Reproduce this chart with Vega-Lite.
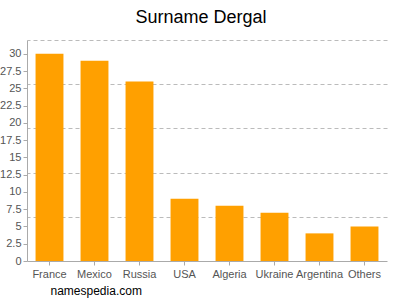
{
  "$schema": "https://vega.github.io/schema/vega-lite/v6.json",
  "width": 360,
  "height": 221,
  "autosize": {"type": "none"},
  "padding": {"left": 27, "top": 40, "right": 13, "bottom": 39},
  "background": "white",
  "title": {"text": "Surname Dergal", "fontSize": 18, "font": "Liberation Sans", "fontWeight": "normal", "color": "#000", "anchor": "middle", "dx": -6, "baseline": "alphabetic", "offset": -1},
  "config": {"view": {"stroke": null}},
  "data": {"values": [
    {"country": "France", "count": 30},
    {"country": "Mexico", "count": 29},
    {"country": "Russia", "count": 26},
    {"country": "USA", "count": 9},
    {"country": "Algeria", "count": 8},
    {"country": "Ukraine", "count": 7},
    {"country": "Argentina", "count": 4},
    {"country": "Others", "count": 5}
  ]},
  "layer": [
    {
      "mark": {"type": "bar", "color": "#ffa000"},
      "encoding": {
        "x": {"field": "country", "type": "nominal", "sort": null,
          "scale": {"paddingInner": 0.38, "paddingOuter": 0.19},
          "axis": {"title": "namespedia.com", "titleX": 23, "titleY": 33, "titleAlign": "left", "titleAnchor": null, "titleBaseline": "alphabetic", "titleFont": "Liberation Sans", "titleFontSize": 12, "titleFontWeight": "normal", "titleColor": "#000",
            "labelAngle": 0, "labelFont": "Liberation Sans", "labelFontSize": 11, "labelColor": "#555", "labelPadding": 3, "tickSize": 4, "tickColor": "#aaa", "domainColor": "#aaa", "grid": false}},
        "y": {"field": "count", "type": "quantitative",
          "scale": {"domain": [0, 32], "nice": false},
          "axis": {"title": null, "values": [0, 2.5, 5, 7.5, 10, 12.5, 15, 17.5, 20, 22.5, 25, 27.5, 30], "format": ".1~f", "grid": false,
            "labelFont": "Liberation Sans", "labelFontSize": 11, "labelColor": "#555", "labelPadding": 2, "tickSize": 4, "tickColor": "#aaa", "domainColor": "#aaa"}}
      }
    },
    {
      "mark": {"type": "bar", "opacity": 0},
      "encoding": {
        "x": {"field": "country", "type": "nominal", "sort": null},
        "y": {"field": "count", "type": "quantitative",
          "axis": {"orient": "right", "title": null, "values": [6.4, 12.8, 19.2, 25.6, 32], "grid": true, "gridDash": [4, 3], "gridColor": "#bbb", "gridOpacity": 1, "labels": false, "ticks": false, "domain": false}}
      }
    }
  ],
  "resolve": {"axis": {"y": "independent"}}
}
